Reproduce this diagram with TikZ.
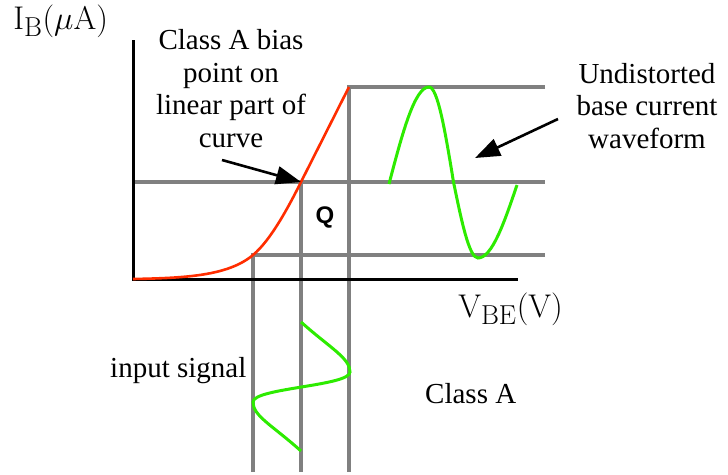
\documentclass[tikz,border=0pt]{standalone}
\usepackage[no-math]{fontspec}
\setmainfont{Liberation Serif}
\newfontfamily\qfont{Liberation Sans}
\usetikzlibrary{arrows.meta}
\definecolor{levelgray}{RGB}{128,128,128}
\definecolor{curvered}{RGB}{255,45,0}
\definecolor{wavegreen}{RGB}{45,235,0}

\begin{document}
\begin{tikzpicture}[x=1pt, y=-1pt,
  every node/.style={align=center, inner sep=0pt, font=\fontsize{29}{32.4}\selectfont},
  axis/.style={line width=3pt},
  level/.style={levelgray, line width=3.2pt},
  wave/.style={wavegreen, line width=3pt},
  axislabel/.style={anchor=base west, scale=1.32, font=\fontsize{24.88}{30}\selectfont},
  pointer/.style={line width=2.6pt, -{Triangle[length=25pt, width=18pt]}}]
\useasboundingbox (0,0) rectangle (728,474);

% operating points
\coordinate (O) at (133,279);
\coordinate (lo) at (253,255);
\coordinate (Q) at (301,182);
\coordinate (hi) at (349,87);

% projection lines
\draw[level] (545,87) -- (hi) -- (349,472);
\draw[level] (133,182) -- (545,182);
\draw[level] (Q) -- (301,472);
\draw[level] (545,255) -- (lo) -- (253,472);

% axes
\draw[axis] (133,40) -- (O) -- (518,279);

% input characteristic
\draw[curvered, line width=2.6pt] (O) .. controls (185,278) and (228,276) .. (lo)
  .. controls (271,240) and (289,206) .. (Q) -- (hi);

% base current and input signal
\draw[wave] (389,184) sin (429,87) cos (453.5,182) sin (478,258) cos (517,185);
\draw[wave] (301,322) .. controls (330,348) and (350,358) .. (350,372)
  .. controls (350,386) and (253,388) .. (253,402)
  .. controls (253,416) and (272,425) .. (301,451);

% labels
\node[anchor=base] at (231,147) (bias) {Class A bias\\point on\\linear part of\\curve};
\node[anchor=base] at (647,148) (undist) {Undistorted\\base current\\waveform};
\node[anchor=base west] at (110,377) (input) {input signal};
\node[anchor=base west] at (425,403) (classA) {Class A};
\node[anchor=base, font=\qfont\bfseries\fontsize{24}{27}\selectfont] at (325,223) (Qlabel) {Q};
\node[axislabel] at (13,29) (ib) {$\mathrm{I_B}(\mu\mathrm{A})$};
\node[axislabel] at (458,317) (vbe) {$\mathrm{V_{BE}}(\mathrm{V})$};

% pointers
\coordinate (biastail) at (222,160);
\coordinate (wavetail) at (558,119);
\coordinate (wavetip) at (475,158);
\draw[pointer] (biastail) -- (Q);
\draw[pointer] (wavetail) -- (wavetip);
\end{tikzpicture}
\end{document}
